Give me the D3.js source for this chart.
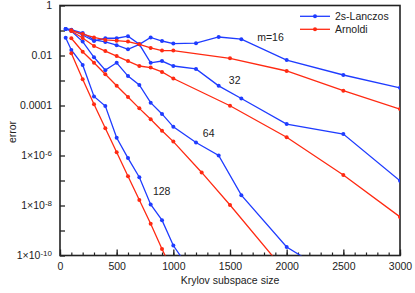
<!doctype html>
<html>
<head>
<meta charset="utf-8">
<title>error vs Krylov subspace size</title>
<script src="https://d3js.org/d3.v7.min.js"></script>
<style>
  body { margin: 0; background: #fff; }
  text { font-family: "Liberation Sans", Arial, Helvetica, sans-serif; fill: #222; }
</style>
</head>
<body>
<script>

// x positions (Krylov subspace size) and errors
var lanczosX16  = [50, 100, 200, 300, 400, 500, 600, 700, 800, 900, 1000, 1200, 1400, 1600, 2000, 2500, 3000];
var lanczosY16  = [0.115, 0.108, 0.079, 0.042, 0.035, 0.026, 0.0178, 0.028, 0.053, 0.038, 0.030, 0.031, 0.055, 0.045, 0.0066, 0.00166, 0.00051];
var lanczosX32  = [50, 100, 200, 300, 400, 500, 600, 700, 800, 900, 1000, 1200, 1400, 1600, 2000, 2500, 3000];
var lanczosY32  = [0.115, 0.105, 0.066, 0.038, 0.049, 0.049, 0.059, 0.028, 0.0051, 0.0060, 0.0038, 0.0029, 6.1e-4, 1.9e-4, 1.8e-5, 7.2e-6, 9.8e-8];
var lanczosX64  = [50, 100, 200, 300, 400, 500, 600, 700, 800, 900, 1000, 1200, 1400, 1600, 2000, 2500];
var lanczosY64  = [0.115, 0.095, 0.036, 0.0085, 0.0026, 0.0051, 0.0015, 6.6e-4, 1.3e-4, 4.6e-5, 1.4e-5, 3.3e-6, 1.0e-6, 2.6e-8, 2.2e-10, 8.7e-12];
var lanczosX128 = [50, 100, 200, 300, 400, 500, 600, 700, 800, 900, 1000, 1100];
var lanczosY128 = [0.051, 0.0166, 0.0042, 2.3e-4, 9.5e-5, 5.1e-6, 7.9e-7, 1.35e-7, 1.1e-8, 2.6e-9, 2.5e-10, 5.5e-11];

var arnoldiX16  = [100, 200, 300, 400, 500, 600, 700, 800, 900, 1000, 1500, 2000, 2500, 3000];
var arnoldiY16  = [0.102, 0.072, 0.053, 0.042, 0.039, 0.036, 0.028, 0.020, 0.0158, 0.0158, 0.0077, 0.0024, 3.9e-4, 7.2e-5];
var arnoldiX32  = [100, 200, 300, 400, 500, 600, 700, 800, 900, 1000, 1500, 2000, 2500, 3000];
var arnoldiY32  = [0.095, 0.050, 0.024, 0.015, 0.0095, 0.006, 0.0038, 0.0033, 0.0022, 0.0012, 9.8e-5, 5.4e-6, 1.66e-7, 3.5e-9];
var arnoldiX64  = [100, 200, 300, 400, 500, 600, 700, 800, 900, 1000, 1250, 1500, 2000];
var arnoldiY64  = [0.049, 0.0142, 0.0051, 0.00178, 6.2e-4, 2.2e-4, 7.7e-5, 2.8e-5, 9.8e-6, 3.6e-6, 2.1e-7, 1.05e-8, 2e-11];
var arnoldiX128 = [100, 200, 300, 400, 500, 600, 700, 800, 900, 1000];
var arnoldiY128 = [0.0123, 0.00112, 1.12e-4, 1.23e-5, 1.35e-6, 1.48e-7, 1.66e-8, 1.86e-9, 1.82e-10, 2e-11];

var seriesNames = ['2s-Lanczos', 'Arnoldi'];
var seriesColors = ['#1f3cff', '#ff2a12'];

// curve labels: text, x value, error value
var curveLabels = ['m=16', '32', '64', '128'];
var labelX = [1740, 1490, 1260, 820];
var labelY = [0.055, 1.05e-3, 7.5e-6, 3.8e-8];

var yMajor = [1, 1e-2, 1e-4, 1e-6, 1e-8, 1e-10];
var yMinor = [1e-1, 1e-3, 1e-5, 1e-7, 1e-9];
var xMajor = [0, 500, 1000, 1500, 2000, 2500, 3000];

var width = 415, height = 293;
var plotLeft = 60, plotRight = 400, plotTop = 5.5, plotBottom = 255.5;

var svg = d3.select('body').append('svg')
    .attr('width', width)
    .attr('height', height);

var x = d3.scaleLinear().domain([0, 3000]).range([plotLeft, plotRight]);
var y = d3.scaleLog().domain([1e-10, 1]).range([plotBottom, plotTop]);

svg.append('clipPath').attr('id', 'plotclip')
  .append('rect')
    .attr('x', plotLeft).attr('y', plotTop)
    .attr('width', plotRight - plotLeft).attr('height', plotBottom - plotTop);

// y axis, ticks pointing inwards
var yAxis = svg.append('g')
    .attr('transform', 'translate(' + plotLeft + ',0)')
    .call(d3.axisLeft(y).tickValues(yMajor.concat(yMinor)).tickSizeInner(-5).tickSizeOuter(0)
      .tickFormat(function () { return ''; }));
yAxis.select('.domain').remove();
yAxis.selectAll('line').attr('stroke', '#222').attr('stroke-width', 1.3);

var yText = svg.append('g').selectAll('text')
    .data(yMajor)
    .enter().append('text')
    .attr('x', plotLeft - 8)
    .attr('y', function (d) { return y(d); })
    .attr('dy', '0.35em')
    .attr('text-anchor', 'end')
    .style('font-size', '10.5px');
yText.each(function (d) {
  var t = d3.select(this);
  var e = Math.round(Math.log10(d));
  if (e > -6) {
    t.text(e === 0 ? '1' : e === -2 ? '0.01' : '0.0001');
  } else {
    t.append('tspan').text('1\u00d710');
    t.append('tspan').attr('dy', '-0.45em').style('font-size', '8px').text(String(e));
  }
});

// x axis: minor every 100, major every 500
var xMinorAxis = svg.append('g')
    .attr('transform', 'translate(0,' + plotBottom + ')')
    .call(d3.axisBottom(x).tickValues(d3.range(0, 3001, 100)).tickSizeInner(-3).tickSizeOuter(0).tickFormat(''));
xMinorAxis.select('.domain').remove();
xMinorAxis.selectAll('line').attr('stroke', '#222').attr('stroke-width', 1.2);

var xAxis = svg.append('g')
    .attr('transform', 'translate(0,' + plotBottom + ')')
    .call(d3.axisBottom(x).tickValues(xMajor).tickSizeInner(-6).tickSizeOuter(0).tickPadding(7).tickFormat(d3.format('d')));
xAxis.select('.domain').remove();
xAxis.selectAll('line').attr('stroke', '#222').attr('stroke-width', 1.3);
xAxis.selectAll('text')
    .style('font-family', '"Liberation Sans", Arial, sans-serif')
    .style('font-size', '10.5px').attr('fill', '#222');

// frame
svg.append('rect')
    .attr('x', plotLeft).attr('y', plotTop)
    .attr('width', plotRight - plotLeft).attr('height', plotBottom - plotTop)
    .attr('fill', 'none').attr('stroke', '#222').attr('stroke-width', 1.6);

// curves
var allSeries = [
  [lanczosX16, lanczosY16, 0], [lanczosX32, lanczosY32, 0], [lanczosX64, lanczosY64, 0], [lanczosX128, lanczosY128, 0],
  [arnoldiX16, arnoldiY16, 1], [arnoldiX32, arnoldiY32, 1], [arnoldiX64, arnoldiY64, 1], [arnoldiX128, arnoldiY128, 1]
];

var line = d3.line()
    .x(function (d) { return x(d[0]); })
    .y(function (d) { return y(d[1]); });

var plot = svg.append('g').attr('clip-path', 'url(#plotclip)');

allSeries.forEach(function (s) {
  var pts = s[0].map(function (v, i) { return [v, s[1][i]]; });
  var col = seriesColors[s[2]];
  plot.append('path')
      .datum(pts)
      .attr('d', line)
      .attr('fill', 'none')
      .attr('stroke', col)
      .attr('stroke-width', 1.3);
  plot.selectAll(null)
      .data(pts)
      .enter().append('circle')
      .attr('cx', function (d) { return x(d[0]); })
      .attr('cy', function (d) { return y(d[1]); })
      .attr('r', 2)
      .attr('fill', col);
});

// curve labels
svg.selectAll('.clabel')
    .data(curveLabels)
    .enter().append('text')
    .attr('class', 'clabel')
    .attr('x', function (d, i) { return x(labelX[i]); })
    .attr('y', function (d, i) { return y(labelY[i]); })
    .attr('dy', '0.35em')
    .style('font-size', '10.5px')
    .text(function (d) { return d; });

// legend
var legend = svg.append('g');
seriesNames.forEach(function (name, i) {
  var ly = 16.3 + i * 13;
  legend.append('line')
      .attr('x1', 300).attr('x2', 330).attr('y1', ly).attr('y2', ly)
      .attr('stroke', seriesColors[i]).attr('stroke-width', 1.3);
  legend.append('circle')
      .attr('cx', 315).attr('cy', ly).attr('r', 2).attr('fill', seriesColors[i]);
  legend.append('text')
      .attr('x', 335).attr('y', ly).attr('dy', '0.35em')
      .style('font-size', '10.5px')
      .text(name);
});

// axis titles
svg.append('text')
    .attr('x', 230).attr('y', 280).attr('dy', '0.35em')
    .attr('text-anchor', 'middle')
    .style('font-size', '10.5px')
    .text('Krylov subspace size');

svg.append('text')
    .attr('transform', 'translate(12,132) rotate(-90)')
    .attr('dy', '0.35em')
    .attr('text-anchor', 'middle')
    .style('font-size', '10.5px')
    .text('error');

</script>
</body>
</html>
